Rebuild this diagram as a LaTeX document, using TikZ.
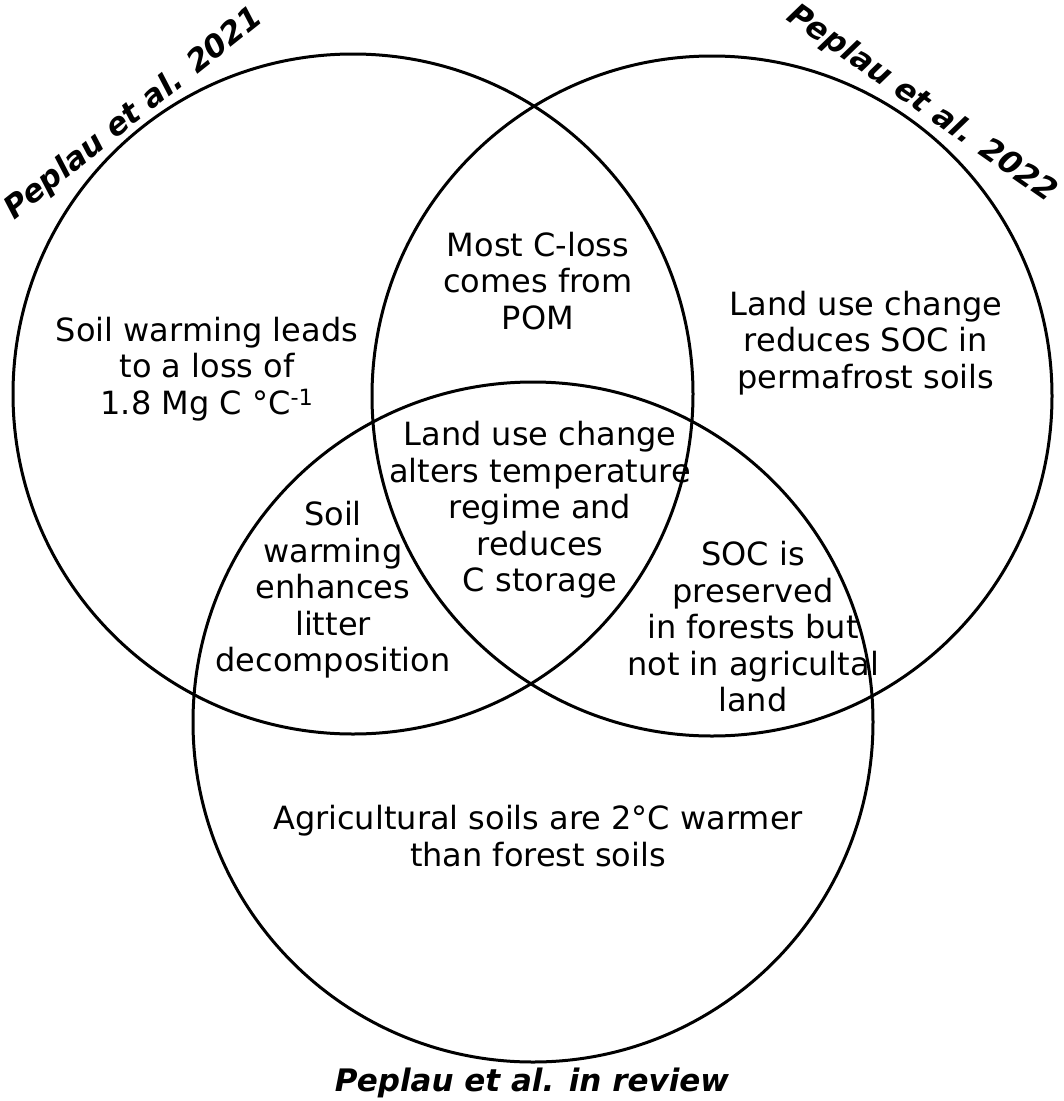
\documentclass[tikz,border=0pt]{standalone}
\usepackage{fontspec}
\setmainfont{DejaVu Sans}
\begin{document}
\begin{tikzpicture}[x=1pt,y=-1pt,
  ring/.style={draw, line width=3pt, circle, minimum size=680pt, inner sep=0pt},
  txt/.style={font=\fontsize{32}{36.5}\selectfont, align=center, inner sep=0pt},
  ttl/.style={font=\fontsize{31}{36}\selectfont\bfseries\itshape, inner sep=0pt}]
\useasboundingbox (0,0) rectangle (1064,1101);
% circles
\node[ring] (cL) at (353,394) {};
\node[ring] (cR) at (712,396) {};
\node[ring] (cB) at (533,722) {};
% titles
\node[ttl, rotate=38.5] (tL) at (134,114) {Peplau et al. 2021};
\node[ttl, rotate=-35] (tR) at (922,104) {Peplau et al. 2022};
\node[ttl] (tB) at (532,1083) {Peplau et al. in review};
% texts
\node[txt] (a) at (207,369) {Soil warming leads\\to a loss of\\1.8 Mg C °C\textsuperscript{-1}};
\node[txt] (b) at (538,281) {Most C-loss\\comes from\\POM};
\node[txt] (c) at (866,343) {Land use change\\reduces SOC in\\permafrost soils};
\node[txt] (d) at (540,510) {Land use change\\alters temperature\\regime and\\reduces\\C storage};
\node[txt] (e) at (333,590) {Soil\\warming\\enhances\\litter\\decomposition};
\node[txt] (f) at (753,627) {SOC is\\preserved\\in forests but\\not in agricultal\\land};
\node[txt] (g) at (538,836) {Agricultural soils are 2°C warmer\\than forest soils};
\end{tikzpicture}
\end{document}
